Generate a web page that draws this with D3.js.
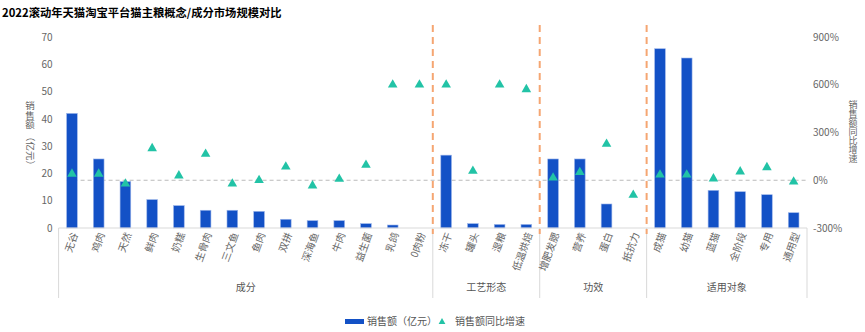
<!DOCTYPE html>
<html>
<head>
<meta charset="utf-8">
<script src="https://cdn.jsdelivr.net/npm/d3@7"></script>
<style>
  body { margin: 0; background: #fff; }
  text { font-family: "Noto Sans CJK SC", "Noto Sans", sans-serif; }
</style>
</head>
<body>
<svg width="865" height="332"></svg>
<script>
// 分组与品类
const groups = ["成分", "工艺形态", "功效", "适用对象"];
const groupSizes = [14, 4, 4, 6];
const categories = [
  "无谷", "鸡肉", "天然", "鲜肉", "奶糕", "生骨肉", "三文鱼", "鱼肉", "双拼", "深海鱼", "牛肉", "益生菌", "乳鸽", "0肉粉",
  "冻干", "罐头", "湿粮", "低温烘焙",
  "增肥发腮", "营养", "蛋白", "抵抗力",
  "成猫", "幼猫", "蓝猫", "全阶段", "专用", "通用型"
];
// 销售额（亿元）
const sales = [
  42.0, 25.3, 17.0, 10.4, 8.2, 6.5, 6.5, 6.1, 3.2, 2.7, 2.7, 1.6, 1.1, 0,
  26.7, 1.6, 1.3, 1.3,
  25.3, 25.3, 8.8, 0,
  65.7, 62.3, 13.8, 13.3, 12.2, 5.6
];
// 销售额同比增速（%）
const growth = [
  40, 40, -22, 200, 29, 165, -22, 0, 85, -34, 8, 96, 600, 600,
  600, 58, 600, 571,
  16, 50, 228, -93,
  35, 35, 10, 54, 81, -9
];
const leftTicks = [0, 10, 20, 30, 40, 50, 60, 70];
const rightTicks = [-300, 0, 300, 600, 900];

const data = categories.map((c, i) => ({ cat: c, sales: sales[i], growth: growth[i] }));

const plotLeft = 58.6, plotRight = 807, plotTop = 37, plotBottom = 228;
const barColor = "#1351c6";
const triColor = "#22c3a6";

const svg = d3.select("svg");

const x = d3.scaleBand()
  .domain(categories)
  .range([plotLeft, plotRight])
  .paddingInner(0.6)
  .paddingOuter(0.3);
const step = x.step();

const y = d3.scaleLinear().domain([0, 70]).range([plotBottom, plotTop]);
const y2 = d3.scaleLinear().domain([-300, 900]).range([plotBottom, plotTop]);

// 标题
svg.append("text")
  .attr("x", 2).attr("y", 17)
  .style("font-size", "11.3px").style("font-weight", "bold")
  .attr("fill", "#000")
  .text("2022滚动年天猫淘宝平台猫主粮概念/成分市场规模对比");

// 左轴
const gl = svg.append("g")
  .attr("transform", `translate(${plotLeft - 4},0)`)
  .call(d3.axisLeft(y).tickValues(leftTicks).tickSize(0).tickPadding(2));
gl.select(".domain").remove();
gl.selectAll("text").attr("fill", "#666").style("font-size", "10px");

// 右轴
const gr = svg.append("g")
  .attr("transform", `translate(${plotRight + 4},0)`)
  .call(d3.axisRight(y2).tickValues(rightTicks).tickSize(0).tickPadding(2).tickFormat(d => d + "%"));
gr.select(".domain").remove();
gr.selectAll("text").attr("fill", "#666").style("font-size", "10px");

// 轴标题（竖排）
svg.append("text")
  .attr("x", 30).attr("y", 101)
  .style("writing-mode", "vertical-rl")
  .style("text-orientation", "upright")
  .style("font-size", "9.5px")
  .attr("fill", "#666")
  .text("销售额");
svg.append("text")
  .attr("transform", "translate(30,132) rotate(90)")
  .attr("dy", "0.35em")
  .style("font-size", "9.5px")
  .attr("fill", "#666")
  .text("（亿元）");
svg.append("text")
  .attr("x", 853).attr("y", 100)
  .style("writing-mode", "vertical-rl")
  .style("text-orientation", "upright")
  .style("font-size", "9px")
  .attr("fill", "#666")
  .text("销售额同比增速");

// 0% 参考线
svg.append("line")
  .attr("x1", plotLeft + 8).attr("x2", plotRight)
  .attr("y1", y2(0)).attr("y2", y2(0))
  .attr("stroke", "#bbb").attr("stroke-width", 1)
  .attr("stroke-dasharray", "4,3");

// 柱子
svg.selectAll(".bar")
  .data(data)
  .enter().append("rect")
  .attr("class", "bar")
  .attr("x", d => x(d.cat))
  .attr("y", d => y(d.sales))
  .attr("width", x.bandwidth())
  .attr("height", d => plotBottom - y(d.sales))
  .attr("fill", barColor)
  .attr("stroke", "#9db6ea")
  .attr("stroke-width", 0.6);

// 分组边界
let cum = 0;
const bounds = [plotLeft];
groupSizes.forEach(n => {
  cum += n;
  bounds.push(cum < categories.length ? x(categories[cum]) - step * 0.3 : plotRight);
});

// 底部轴线和分组框线
svg.append("line")
  .attr("x1", plotLeft).attr("x2", plotRight)
  .attr("y1", plotBottom).attr("y2", plotBottom)
  .attr("stroke", "#d9d9d9");
bounds.forEach(b => {
  svg.append("line")
    .attr("x1", b).attr("x2", b)
    .attr("y1", plotBottom).attr("y2", 298)
    .attr("stroke", "#d9d9d9");
});

// 橙色虚线分隔
bounds.slice(1, -1).forEach(b => {
  svg.append("line")
    .attr("x1", b).attr("x2", b)
    .attr("y1", 25).attr("y2", 234)
    .attr("stroke", "#f5a672").attr("stroke-width", 2)
    .attr("stroke-dasharray", "7,5");
});

// 三角形（同比增速）
svg.selectAll(".tri")
  .data(data)
  .enter().append("path")
  .attr("class", "tri")
  .attr("transform", d => `translate(${x(d.cat) + x.bandwidth() / 2},${y2(d.growth)})`)
  .attr("d", d3.symbol(d3.symbolTriangle).size(40))
  .attr("fill", triColor);

// 品类标签
svg.selectAll(".cat")
  .data(data)
  .enter().append("text")
  .attr("class", "cat")
  .attr("transform", d => `translate(${x(d.cat) + x.bandwidth() / 2 + 3},${plotBottom + 5}) rotate(-70)`)
  .attr("text-anchor", "end")
  .attr("dy", "0.35em")
  .style("font-size", "10px")
  .attr("fill", "#666")
  .text(d => d.cat);

// 分组标签
groups.forEach((g, i) => {
  svg.append("text")
    .attr("x", (bounds[i] + bounds[i + 1]) / 2)
    .attr("y", 291)
    .attr("text-anchor", "middle")
    .style("font-size", "10px")
    .attr("fill", "#555")
    .text(g);
});

// 图例
const lg = svg.append("g");
lg.append("rect")
  .attr("x", 345).attr("y", 319).attr("width", 19).attr("height", 5)
  .attr("fill", barColor);
lg.append("text")
  .attr("x", 367).attr("y", 325)
  .style("font-size", "10px").attr("fill", "#555")
  .text("销售额（亿元）");
lg.append("path")
  .attr("transform", "translate(442,322)")
  .attr("d", d3.symbol(d3.symbolTriangle).size(20))
  .attr("fill", triColor);
lg.append("text")
  .attr("x", 455).attr("y", 325)
  .style("font-size", "10px").attr("fill", "#555")
  .text("销售额同比增速");
</script>
</body>
</html>
